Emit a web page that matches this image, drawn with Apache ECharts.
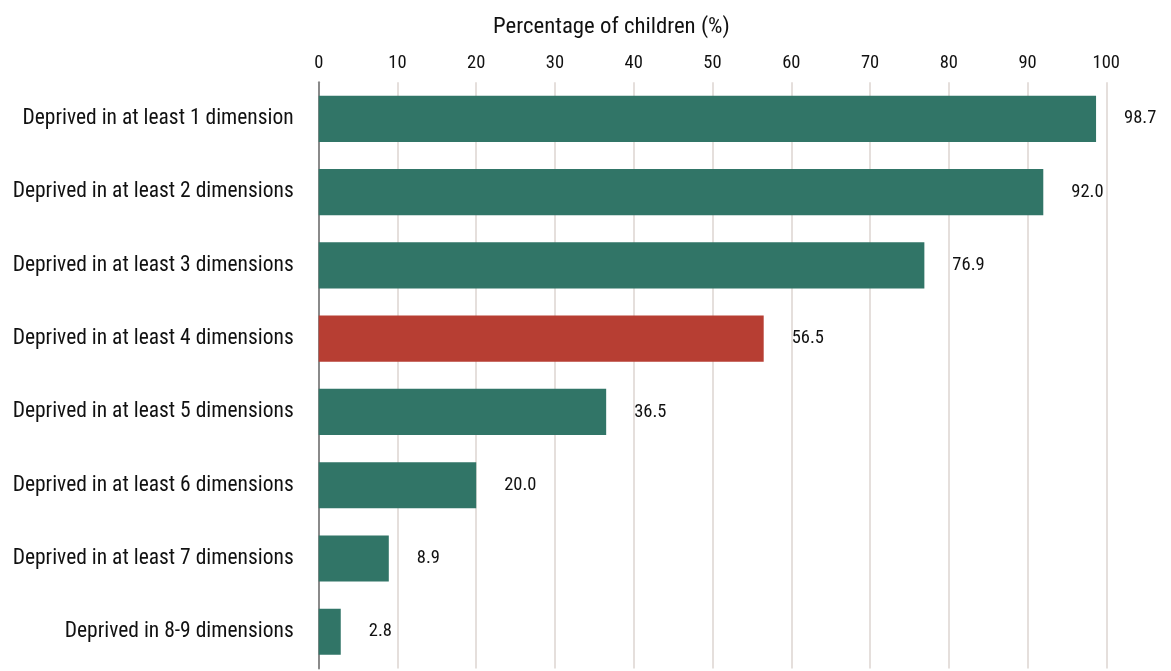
<!DOCTYPE html>
<html>
<head>
<meta charset="utf-8">
<script src="https://cdn.jsdelivr.net/npm/echarts@6/dist/echarts.min.js"></script>
<style>html,body{margin:0;padding:0;background:#fff}#c{width:1171px;height:671px}</style>
</head>
<body>
<div id="c"></div>
<script>
const categories = [
  "Deprived in at least 1 dimension",
  "Deprived in at least 2 dimensions",
  "Deprived in at least 3 dimensions",
  "Deprived in at least 4 dimensions",
  "Deprived in at least 5 dimensions",
  "Deprived in at least 6 dimensions",
  "Deprived in at least 7 dimensions",
  "Deprived in 8-9 dimensions"
];
const values = [98.7, 92.0, 76.9, 56.5, 36.5, 20.0, 8.9, 2.8];
const highlightIndex = 3;
const axisTitle = "Percentage of children (%)";

const GREEN = "#317567", RED = "#B73E33";
const FONT = "Roboto Condensed";
const chart = echarts.init(document.getElementById('c'), null, {renderer: 'canvas'});
chart.setOption({
  animation: false,
  backgroundColor: '#fff',
  textStyle: {fontFamily: FONT, color: '#111'},
  graphic: [{
    type: 'text', left: 493, top: 16,
    style: {text: axisTitle, font: '22.8px "' + FONT + '"', fill: '#111'}
  }],
  grid: {left: 318.7, right: 64.7, top: 82.2, bottom: 2.6, containLabel: false},
  xAxis: {
    type: 'value', position: 'top', min: 0, max: 100, interval: 10,
    axisLine: {show: false}, axisTick: {show: false},
    axisLabel: {fontSize: 18.5, color: '#111', margin: 9, fontFamily: FONT},
    splitLine: {show: true, lineStyle: {color: '#DDD5D0', width: 1.5}}
  },
  yAxis: {
    type: 'category', inverse: true, data: categories,
    axisLine: {show: true, lineStyle: {color: '#8a8a8a', width: 2}},
    axisTick: {show: false},
    axisLabel: {fontSize: 21.5, color: '#111', margin: 25, fontFamily: FONT}
  },
  series: [{
    type: 'bar', barWidth: '63%',
    data: values.map((v, i) => ({value: v, itemStyle: {color: i === highlightIndex ? RED : GREEN}})),
    label: {show: true, position: 'right', distance: 28, fontSize: 18.5, color: '#111', fontFamily: FONT,
      formatter: p => p.value.toFixed(1)}
  }]
});
</script>
</body>
</html>
